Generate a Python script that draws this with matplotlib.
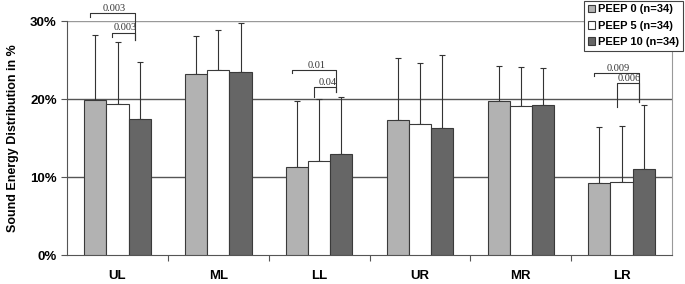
import numpy as np
import matplotlib
matplotlib.use('Agg')
import matplotlib.pyplot as plt

regiones = ['UL', 'ML', 'LL', 'UR', 'MR', 'LR']
series = ['PEEP 0 (n=34)', 'PEEP 5 (n=34)', 'PEEP 10 (n=34)']

peep0 = [19.9, 23.2, 11.3, 17.35, 19.7, 9.2]
peep5 = [19.3, 23.7, 12.1, 16.8, 19.1, 9.4]
peep10 = [17.4, 23.4, 13.0, 16.3, 19.2, 11.0]

# limite superior de la barra de error (media + DE)
sup0 = [28.2, 28.1, 19.7, 25.3, 24.2, 16.4]
sup5 = [27.3, 28.9, 20.0, 24.6, 24.1, 16.5]
sup10 = [24.7, 29.7, 20.2, 25.6, 24.0, 19.2]

# (region, barra inicio, barra fin, altura, pata izq, pata der, p)
corchetes = [
    (0, 0, 2, 31.0, 30.5, 27.6, '0.003'),
    (0, 1, 2, 28.5, 27.9, 27.6, '0.003'),
    (2, 0, 2, 23.7, 23.3, 20.9, '0.01'),
    (2, 1, 2, 21.5, 20.3, 20.9, '0.04'),
    (5, 0, 2, 23.3, 22.9, 19.6, '0.009'),
    (5, 1, 2, 22.0, 19.0, 19.6, '0.006'),
]

plt.rcParams['font.family'] = ['Liberation Sans', 'DejaVu Sans']

fig = plt.figure(figsize=(6.85, 2.84), dpi=100)
ax = fig.add_axes([0.098, 0.102, 0.883, 0.824])

x = np.arange(len(regiones)) + 0.5
ancho = 0.22
colores = ['#b2b2b2', '#ffffff', '#666666']
datos = [peep0, peep5, peep10]
superiores = [sup0, sup5, sup10]

for k in range(3):
    pos = x + (k - 1) * ancho
    vals = np.array(datos[k])
    err = np.array(superiores[k]) - vals
    ax.bar(pos, vals, width=ancho, color=colores[k], edgecolor='#3a3a3a',
           linewidth=0.8, label=series[k], zorder=3)
    ax.errorbar(pos, vals, yerr=[np.zeros_like(err), err], fmt='none',
                ecolor='#333333', elinewidth=0.8, capsize=2.5, capthick=0.8, zorder=2)

for reg, b1, b2, h, piz, pder, txt in corchetes:
    x1 = x[reg] + (b1 - 1) * ancho - 0.05
    x2 = x[reg] + (b2 - 1) * ancho - 0.05
    ax.plot([x1, x1, x2, x2], [piz, h, h, pder], color='#333333', lw=0.8,
            clip_on=False, zorder=4)
    ax.text((x1 + x2) / 2 + 0.02, h + 0.05, txt, ha='center', va='bottom',
            fontsize=7.5, color='#333333', family='Liberation Serif')

ax.set_xlim(0, 6)
ax.set_ylim(0, 30)
ax.set_yticks([0, 10, 20, 30])
ax.set_yticklabels(['0%', '10%', '20%', '30%'], fontsize=9.5, fontweight='bold')
ax.set_xticks(np.arange(1, 6))
ax.set_xticklabels([])
ax.set_xticks(x, minor=True)
ax.set_xticklabels(regiones, minor=True, fontsize=9.5, fontweight='bold')
ax.tick_params(axis='x', which='minor', length=0, pad=11)
ax.tick_params(axis='x', which='major', length=4, direction='out', color='#555555')
ax.tick_params(axis='y', length=4, color='#555555')

for v in [10, 20]:
    ax.axhline(v, color='#555555', lw=1.0, zorder=1)
ax.axhline(30, color='#999999', lw=1.0, zorder=1)

ax.spines['top'].set_visible(False)
ax.spines['right'].set_color('#999999')
ax.spines['left'].set_color('#555555')
ax.spines['bottom'].set_color('#555555')

ax.set_ylabel('Sound Energy Distribution in %', fontsize=9, fontweight='bold', labelpad=8)

leg = ax.legend(loc='upper right', bbox_to_anchor=(0.997, 0.998), bbox_transform=fig.transFigure,
                frameon=True, fancybox=False, edgecolor='#444444', framealpha=1,
                handlelength=0.7, handleheight=0.7, handletextpad=0.25, borderpad=0.35,
                labelspacing=0.55, borderaxespad=0, prop={'weight': 'bold', 'size': 8})
leg.get_frame().set_linewidth(0.8)

fig.savefig('out.png', dpi=100)
